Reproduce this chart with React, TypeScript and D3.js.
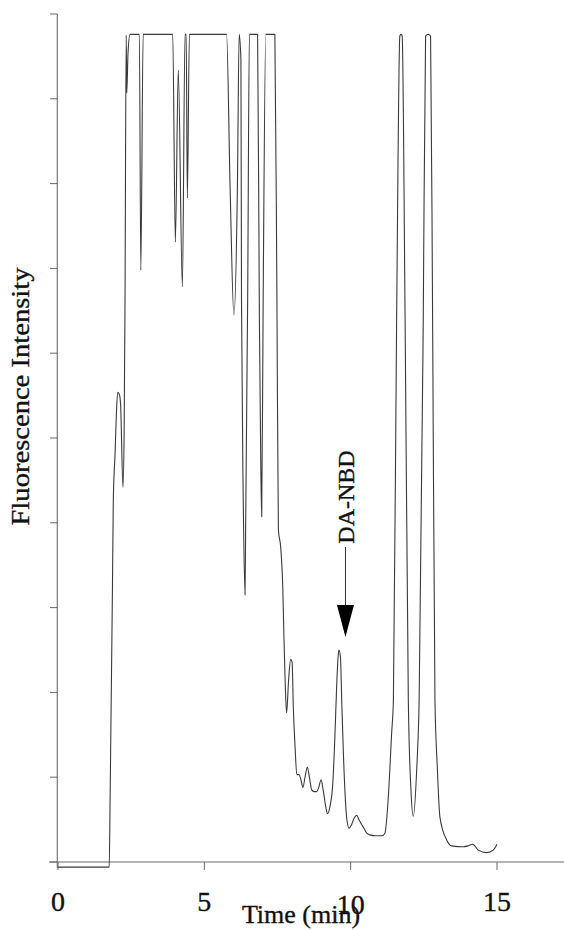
import React from "react";
import * as d3 from "d3";

// Chromatogram trace: retention time (min) and fluorescence intensity (axis tick units, 0-10)
const times: number[] = [
  0, 1.75, 1.78, 1.86, 1.89, 1.95, 2.0, 2.04, 2.1, 2.14, 2.22, 2.26, 2.29, 2.33, 2.35, 2.39, 2.46,
  2.78, 2.83, 2.91, 3.92, 4.01, 4.11, 4.25, 4.34, 4.38, 4.42, 4.49, 5.76, 5.88, 6.01, 6.13, 6.19,
  6.25, 6.27, 6.33, 6.39, 6.41, 6.45, 6.48, 6.54, 6.82, 6.88, 6.93, 6.96, 7.01, 7.1, 7.41, 7.48,
  7.53, 7.61, 7.68, 7.72, 7.76, 7.81, 7.88, 7.95, 8.0, 8.04, 8.1, 8.16, 8.24, 8.3, 8.37, 8.44,
  8.52, 8.59, 8.67, 8.75, 8.84, 8.91, 8.99, 9.06, 9.15, 9.21, 9.29, 9.39, 9.46, 9.52, 9.57, 9.6,
  9.65, 9.7, 9.76, 9.82, 9.87, 9.95, 10.03, 10.12, 10.21, 10.28, 10.38, 10.45, 10.55, 10.66,
  10.83, 11.07, 11.17, 11.28, 11.4, 11.46, 11.57, 11.68, 11.72, 11.76, 11.86, 11.97, 12.06,
  12.14, 12.26, 12.34, 12.48, 12.56, 12.65, 12.73, 12.8, 12.88, 12.96, 13.05, 13.28, 13.45,
  13.85, 14.01, 14.17, 14.36, 14.65, 14.87, 15.0,
];
const intensity: number[] = [
  -0.06, -0.06, 0.73, 3.21, 4.27, 4.82, 5.33, 5.54, 5.51, 5.39, 4.42, 5.06, 6.63, 9.75, 9.07, 9.52,
  9.76, 9.76, 6.98, 9.76, 9.76, 7.31, 9.34, 6.78, 9.76, 9.76, 7.83, 9.76, 9.76, 7.96, 6.45, 7.96,
  9.76, 9.46, 6.63, 4.27, 3.15, 3.88, 5.45, 6.63, 9.76, 9.76, 6.45, 4.66, 4.07, 6.63, 9.76, 9.76,
  6.63, 3.92, 3.71, 3.24, 2.65, 2.15, 1.76, 2.15, 2.39, 2.35, 1.83, 1.36, 1.03, 1.03, 0.97, 0.88,
  1.0, 1.12, 1.0, 0.85, 0.83, 0.83, 0.88, 0.97, 0.85, 0.65, 0.57, 0.65, 0.93, 1.47, 2.06, 2.42,
  2.5, 2.42, 1.83, 1.2, 0.73, 0.5, 0.4, 0.44, 0.52, 0.55, 0.5, 0.44, 0.4, 0.34, 0.32, 0.31, 0.31,
  0.34, 0.73, 1.52, 1.91, 6.39, 9.74, 9.76, 9.74, 6.39, 1.91, 0.85, 0.54, 1.12, 1.91, 6.39, 9.74,
  9.76, 9.74, 6.39, 1.91, 1.12, 0.53, 0.26, 0.19, 0.18, 0.19, 0.21, 0.14, 0.11, 0.14, 0.21,
];

const xTickValues: number[] = [0, 5, 10, 15];
const xTickLabels: string[] = ["0", "5", "10", "15"];
const yTickValues: number[] = [0, 1, 2, 3, 4, 5, 6, 7, 8, 9, 10];
const xTitle = "Time (min)";
const yTitle = "Fluorescence Intensity";
const peakLabel = "DA-NBD";
const peakTime = 9.6;
const peakValue = 2.5;

const W = 564;
const H = 930;
const FONT = "'Liberation Serif', 'Times New Roman', Times, serif";

export default function App() {
  const x = d3.scaleLinear().domain([0, 15]).range([58, 497]);
  const y = d3.scaleLinear().domain([0, 10]).range([862, 14]);

  const pts: [number, number][] = times.map((t, i) => [t, intensity[i]]);
  const line = d3
    .line<[number, number]>()
    .x((d) => x(d[0]))
    .y((d) => y(d[1]))
    .curve(d3.curveMonotoneX);

  const axisColor = "#6a6a6a";
  const px = x(peakTime) + 6.5;
  const arrowTip = y(peakValue) - 13;
  const arrowHeadTop = arrowTip - 32;
  const shaftTop = arrowTip - 90;
  const textInk = { fill: "#111", stroke: "#111", strokeWidth: 0.35 };

  return (
    <svg
      width={W}
      height={H}
      viewBox={`0 0 ${W} ${H}`}
      style={{ position: "absolute", left: 0, top: 0, background: "#fff" }}
    >
      <rect x={0} y={0} width={W} height={H} fill="#fff" />
      {/* Y axis */}
      <line x1={x(0) - 0.7} x2={x(0) - 0.7} y1={y(10)} y2={y(0) + 6} stroke={axisColor} strokeWidth={1.1} />
      {yTickValues.map((v) => (
        <line key={"yt" + v} x1={x(0) - 8} x2={x(0) - 0.7} y1={y(v)} y2={y(v)} stroke={axisColor} strokeWidth={1} />
      ))}
      {/* X axis */}
      <line x1={49} x2={W} y1={y(0)} y2={y(0)} stroke={axisColor} strokeWidth={1.1} />
      {xTickValues.map((v) => (
        <line key={"xt" + v} x1={x(v)} x2={x(v)} y1={y(0)} y2={y(0) + 8} stroke={axisColor} strokeWidth={1} />
      ))}
      {xTickValues.map((v, i) => (
        <text
          key={"xl" + v}
          x={x(v)}
          y={v === 10 ? 914 : 911}
          textAnchor="middle"
          fontFamily={FONT}
          fontSize={28}
          {...textInk}
        >
          {xTickLabels[i]}
        </text>
      ))}
      <text x={301} y={923} textAnchor="middle" fontFamily={FONT} fontSize={26} {...textInk}>
        {xTitle}
      </text>
      <text
        transform={`translate(29, 396.5) rotate(-90)`}
        textAnchor="middle"
        fontFamily={FONT}
        fontSize={26}
        textLength={258}
        lengthAdjust="spacingAndGlyphs"
        {...textInk}
      >
        {yTitle}
      </text>
      {/* trace */}
      <path d={line(pts) || ""} fill="none" stroke="#3a3a3a" strokeWidth={1.1} strokeLinejoin="round" />
      {/* DA-NBD annotation */}
      <text
        transform={`translate(${px + 9}, 497) rotate(-90)`}
        textAnchor="middle"
        fontFamily={FONT}
        fontSize={24}
        {...textInk}
      >
        {peakLabel}
      </text>
      <line x1={px} x2={px} y1={shaftTop} y2={arrowHeadTop} stroke="#333" strokeWidth={1} />
      <polygon
        points={`${px - 8.5},${arrowHeadTop} ${px + 8.5},${arrowHeadTop} ${px},${arrowTip}`}
        fill="#000"
      />
    </svg>
  );
}
